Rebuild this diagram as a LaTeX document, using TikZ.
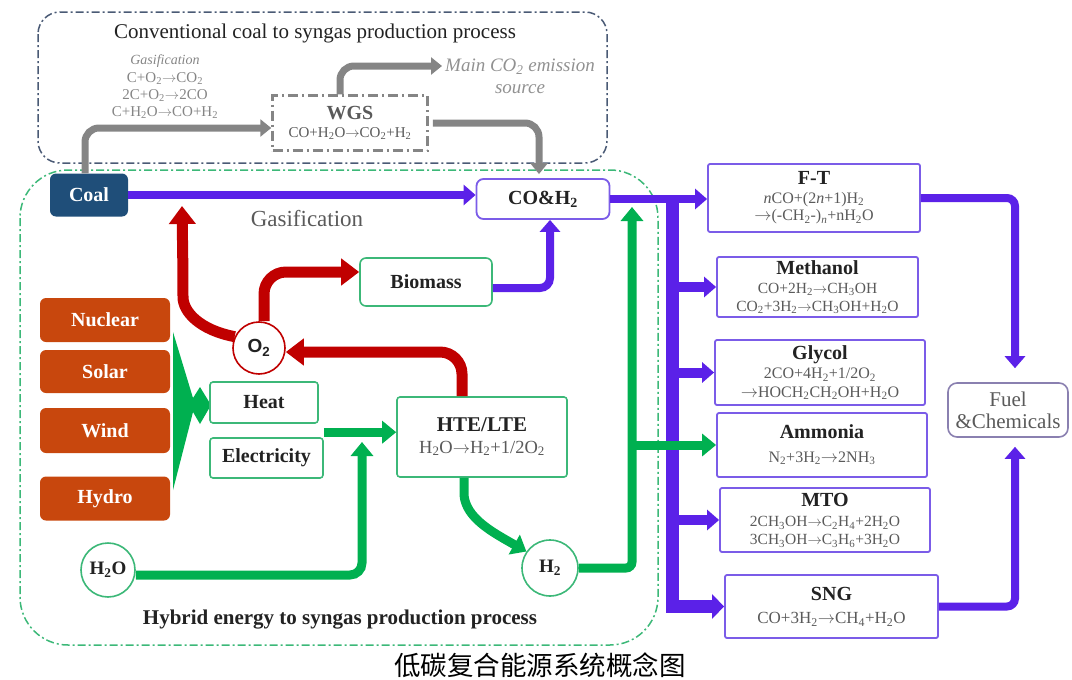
\documentclass[tikz,border=0pt]{standalone}
\usepackage{fontspec}
\setmainfont{Liberation Serif}
\newfontfamily\sansf{Liberation Sans}
\newfontfamily\cjk{Noto Sans CJK SC}
\usetikzlibrary{arrows.meta}
\newcommand{\sbs}[1]{\textsubscript{#1}}
\newcommand{\yto}{$\rightarrow$}
\newcommand{\fs}[1]{\fontsize{#1}{\fpeval{1.15*#1}}\selectfont}
\definecolor{purp}{HTML}{5B21E8}
\definecolor{purpbox}{HTML}{7B5CE8}
\definecolor{redA}{HTML}{C00000}
\definecolor{grn}{HTML}{00B050}
\definecolor{grnbox}{HTML}{3CB878}
\definecolor{grayA}{HTML}{858585}
\definecolor{orng}{HTML}{C8470D}
\definecolor{coalb}{HTML}{1F4E79}
\definecolor{topdash}{HTML}{4A5A75}
\definecolor{txtg}{HTML}{5A5A5A}
\definecolor{txtd}{HTML}{222222}
\definecolor{fuelb}{HTML}{8A80B0}
\tikzset{
  parr/.style={draw=purp, line width=8pt, -{Triangle[length=12pt,width=20pt]}},
  rarr/.style={draw=redA, line width=11pt, rounded corners=22pt, -{Triangle[length=18pt,width=26pt]}},
  garr/.style={draw=grn, line width=9pt, -{Triangle[length=14pt,width=22pt]}},
  grarr/.style={draw=grayA, line width=7pt, rounded corners=14pt, -{Triangle[length=11pt,width=17pt]}},
  ebox/.style={fill=orng, rounded corners=6pt, text=white, font=\fs{20}\bfseries, minimum width=130pt, inner sep=0pt},
  gbox/.style={draw=grnbox, line width=1.6pt, fill=white, rounded corners=3pt, text=txtd, font=\fs{20}\bfseries, inner sep=0pt, align=center},
  pbox/.style={draw=purpbox, line width=1.8pt, fill=white, rounded corners=2pt, text=txtg, inner sep=0pt, align=center, font=\fs{16}},
  circ/.style={circle, draw=grnbox, line width=1.6pt, fill=white, text=txtd, inner sep=0pt, font=\fs{19}\bfseries}
}
\newcommand{\pt}[1]{{\fs{20}\bfseries\color{txtd}#1}}
\begin{document}
\begin{tikzpicture}[x=1pt,y=-1pt]
\useasboundingbox (0,0) rectangle (1072,680);
% frames
\draw[topdash, line width=1.5pt, dash pattern=on 8pt off 3pt on 2pt off 3pt, rounded corners=22pt] (38,12) rectangle (607,163);
\draw[grnbox, line width=1.5pt, dash pattern=on 8pt off 3pt on 2pt off 3pt, rounded corners=48pt] (20,170) rectangle (658,645);
% top region texts
\node[font=\fs{21}, text=txtd] (ttop) at (315,33) {Conventional coal to syngas production process};
\node[font=\fs{15}, text=grayA, align=center] (gasf) at (165,87) {{\fs{14}\itshape Gasification}\\[0pt]C+O\sbs{2}\yto CO\sbs{2}\\[0pt]2C+O\sbs{2}\yto 2CO\\[0pt]C+H\sbs{2}O\yto CO+H\sbs{2}};
\node[draw=grayA, line width=2.5pt, dash pattern=on 10pt off 4pt on 2pt off 4pt, minimum width=155pt, minimum height=55pt, inner sep=0pt, align=center, text=txtg, font=\fs{15}] (wgs) at (350,123) {{\fs{20}\bfseries WGS}\\[0pt]CO+H\sbs{2}O\yto CO\sbs{2}+H\sbs{2}};
\node[font=\fs{19}\itshape, text=grayA!90, align=center] (co2src) at (520,76) {Main CO\sbs{2} emission\\source};
\coordinate (co2in) at (442,66);
% coal & syngas
\node[ebox, fill=coalb, minimum width=78pt, minimum height=43pt] (coal) at (89,195) {Coal};
\node[draw=purpbox, line width=1.8pt, fill=white, rounded corners=7pt, minimum width=133pt, minimum height=40pt, inner sep=0pt, font=\fs{20}\bfseries, text=txtd] (coh) at (543,199) {CO\&H\sbs{2}};
\node[font=\fs{23}, text=txtg] (gaslbl) at (307,219) {Gasification};
% gray arrows
\draw[grarr] ([xshift=-4pt]coal.north) |- ([yshift=-5pt]wgs.west);
\draw[grarr] ([xshift=-10pt]wgs.north) |- (co2in);
\draw[grarr] ([xshift=4pt]wgs.east) -| ([xshift=-4pt,yshift=4pt]coh.north);
% main purple
\coordinate (gasin) at (182,206);
\draw[parr] (coal.east) -- (coal.east -| coh.west);
% energy sources
\node[ebox, minimum height=44pt] (nuc) at (105,320) {Nuclear};
\node[ebox, minimum height=43pt] (sol) at (105,371.5) {Solar};
\node[ebox, minimum height=45pt] (wind) at (105,430.5) {Wind};
\node[ebox, minimum height=44pt] (hyd) at (105,498.5) {Hydro};
\fill[grn] (173,332) -- (193,398) -- (200,387) -- (211,405) -- (200,424) -- (193,412) -- (173,490) -- cycle;
\node[gbox, minimum width=108pt, minimum height=41pt] (heat) at (264,402.5) {Heat};
\node[gbox, minimum width=113pt, minimum height=40pt] (elec) at (266.5,458) {Electricity};
\node[gbox, minimum width=170pt, minimum height=80pt, font=\fs{18.5}] (hte) at (482,437) {{\fs{21}\bfseries HTE/LTE}\\[0pt]{\color{txtg}H\sbs{2}O\yto H\sbs{2}+1/2O\sbs{2}}};
\node[gbox, minimum width=132pt, minimum height=48pt, rounded corners=6pt] (bio) at (426,282) {Biomass};
\node[circle, draw=redA, line width=1.6pt, fill=white, minimum size=52pt, inner sep=0pt, font=\sansf\fs{19}\bfseries, text=txtd] (o2) at (259,348) {O\sbs{2}};
\node[circ, minimum size=54pt] (h2o) at (108,570) {H\sbs{2}O};
\node[circ, minimum size=56pt] (h2) at (550,568) {H\sbs{2}};
\node[font=\fs{21}\bfseries, text=txtd] (hyb) at (340,620) {Hybrid energy to syngas production process};
% red arrows
\draw[rarr] (o2.155) .. controls (200,330) and (183,312) .. (183,275) -- (gasin);
\draw[rarr] ([xshift=5pt]o2.north) |- ([yshift=10pt]bio.west);
\draw[rarr] ([xshift=-20pt]hte.north) |- ([yshift=-4pt]o2.east);
% purple biomass
\draw[parr, rounded corners=10pt] ([yshift=-6pt]bio.east) -| ([xshift=7pt]coh.south);
% green arrows
\coordinate (elecin) at (362,442);
\coordinate (gtop) at (632,207);
\draw[garr] ([yshift=5pt]elec.north east) -- ([yshift=5pt]elec.north east -| hte.west);
\draw[garr, rounded corners=12pt] ([yshift=-5pt]h2o.east) -| (elecin);
\draw[garr] ([xshift=-18pt]hte.south) -- (464,495) .. controls (466,518) and (492,532) .. (h2.145);
% product boxes
\node[pbox, minimum width=212pt, minimum height=68pt] (ft) at (814,198) {\pt{F-T}\\[0pt]\textit{n}CO+(2\textit{n}+1)H\sbs{2}\\[-1pt]\yto(-CH\sbs{2}-)\sbs{\textit{n}}+nH\sbs{2}O};
\node[pbox, minimum width=201pt, minimum height=60pt, font=\fs{15.5}] (meth) at (817.5,287) {\pt{Methanol}\\[1pt]CO+2H\sbs{2}\yto CH\sbs{3}OH\\[0pt]CO\sbs{2}+3H\sbs{2}\yto CH\sbs{3}OH+H\sbs{2}O};
\node[pbox, minimum width=210pt, minimum height=65pt] (gly) at (820,372.5) {\pt{Glycol}\\[1pt]2CO+4H\sbs{2}+1/2O\sbs{2}\\[0pt]\yto HOCH\sbs{2}CH\sbs{2}OH+H\sbs{2}O};
\node[pbox, minimum width=210pt, minimum height=64pt] (amm) at (822,445) {\pt{Ammonia}\\[5pt]N\sbs{2}+3H\sbs{2}\yto 2NH\sbs{3}};
\node[pbox, minimum width=210pt, minimum height=64pt, font=\fs{15.5}] (mto) at (825,520) {\pt{MTO}\\[3pt]2CH\sbs{3}OH\yto C\sbs{2}H\sbs{4}+2H\sbs{2}O\\[0pt]3CH\sbs{3}OH\yto C\sbs{3}H\sbs{6}+3H\sbs{2}O};
\node[pbox, minimum width=213pt, minimum height=63pt, font=\fs{17}] (sng) at (831.5,606.5) {\pt{SNG}\\[4pt]CO+3H\sbs{2}\yto CH\sbs{4}+H\sbs{2}O};
\node[draw=fuelb, line width=1.6pt, fill=white, rounded corners=9pt, minimum width=120pt, minimum height=54pt, inner sep=0pt, align=center, font=\fs{21}, text=txtg] (fuel) at (1008,410) {Fuel\\[-2pt]\&Chemicals};
% purple distribution
\coordinate (bus) at (672,197);
\draw[parr] (coh.east) -- (coh.east -| ft.west);
\draw[parr, line width=13pt, -{Triangle[length=12pt,width=24pt]}] (bus) |- (sng.west);
\draw[parr, line width=10pt] (bus |- meth.west) -- (meth.west);
\draw[parr, line width=10pt] (bus |- gly.west) -- (gly.west);
\draw[parr, line width=10pt] (bus |- mto.west) -- (mto.west);
\draw[parr, rounded corners=8pt] (ft.east) -| ([xshift=7pt,yshift=14pt]fuel.north);
\draw[parr, rounded corners=8pt] (sng.east) -| ([xshift=7pt,yshift=-9pt]fuel.south);
% green to syngas and ammonia
\draw[garr, rounded corners=6pt] (h2.east) -| (gtop);
\draw[garr] (gtop |- amm.west) -- (amm.west);
% caption
\node[font=\cjk\fs{26.5}, text=black] (cap) at (540,665) {低碳复合能源系统概念图};
\end{tikzpicture}
\end{document}
